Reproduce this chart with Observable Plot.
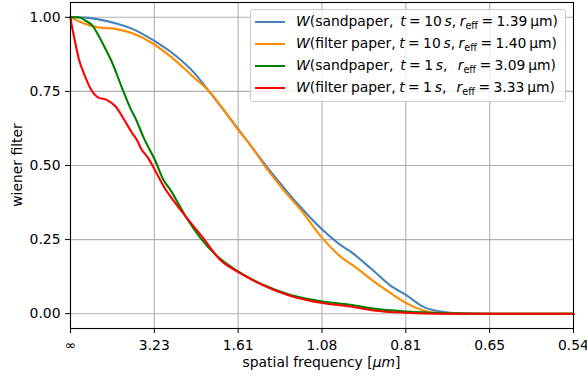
<!DOCTYPE html>
<html>
<head>
<meta charset="utf-8">
<script src="https://cdn.jsdelivr.net/npm/d3@7"></script>
<script src="https://cdn.jsdelivr.net/npm/@observablehq/plot@0.6"></script>
<style>
  body { margin: 0; background: white; }
  #wrap { position: relative; width: 587px; height: 381px; font-family: "DejaVu Sans", sans-serif; }
  #legend {
    position: absolute; right: 21px; top: 9px;
    background: rgba(255,255,255,0.8);
    border: 1px solid #cccccc; border-radius: 3px;
    padding: 1px 7px 2px 4px;
    font-size: 13.9px; color: black; white-space: nowrap; word-spacing: -1px;
  }
  .row { height: 22px; line-height: 22px; display: flex; align-items: center; }
  .handle { display: inline-block; width: 30px; height: 0; border-top: 2.1px solid; margin-right: 11px; }
  .sub { font-size: 9.7px; position: relative; top: 3px; }
</style>
</head>
<body>
<div id="wrap"></div>
<script>
// Tick positions (spatial frequency, 1/µm) and their labels (wavelength, µm)
const xTickValues = [0, 0.31, 0.62, 0.93, 1.24, 1.55, 1.86];
const xTickLabels = ["∞", "3.23", "1.61", "1.08", "0.81", "0.65", "0.54"];
const yTickValues = [0, 0.25, 0.5, 0.75, 1.0];

const seriesNames = [
  "W(sandpaper, t=10s, reff=1.39µm)",
  "W(filter paper, t=10s, reff=1.40µm)",
  "W(sandpaper, t=1s, reff=3.09µm)",
  "W(filter paper, t=1s, reff=3.33µm)"
];
const seriesColors = ["#4682b4", "#ff8c00", "#008000", "#ff0000"];

// sandpaper, t = 10 s
const freqSand10 = [0,0.055,0.104,0.166,0.229,0.307,0.388,0.455,0.510,0.621,0.666,0.721,0.788,0.851,0.932,0.998,1.035,1.109,1.183,1.243,1.305,1.368,1.442,1.553,1.860];
const wSand10    = [1.000,0.999,0.993,0.980,0.961,0.922,0.871,0.815,0.753,0.622,0.568,0.501,0.426,0.359,0.283,0.232,0.210,0.154,0.095,0.062,0.023,0.007,0.001,0.000,0.000];
// filter paper, t = 10 s
const freqFilt10 = [0,0.030,0.074,0.104,0.166,0.229,0.307,0.388,0.455,0.510,0.621,0.666,0.721,0.788,0.851,0.932,0.998,1.061,1.120,1.183,1.243,1.305,1.357,1.442,1.860];
const wFilt10    = [1.000,0.987,0.972,0.966,0.961,0.946,0.910,0.854,0.798,0.753,0.619,0.568,0.495,0.417,0.350,0.254,0.193,0.152,0.110,0.070,0.035,0.011,0.002,0.000,0.000];
// sandpaper, t = 1 s
const freqSand1 = [0,0.030,0.055,0.081,0.104,0.129,0.155,0.192,0.222,0.240,0.270,0.314,0.344,0.370,0.407,0.433,0.481,0.555,0.621,0.714,0.814,0.932,1.035,1.120,1.246,1.368,1.516,1.860];
const wSand1    = [1.000,1.000,0.989,0.972,0.938,0.894,0.845,0.758,0.692,0.660,0.595,0.515,0.451,0.417,0.358,0.318,0.255,0.184,0.142,0.097,0.063,0.041,0.030,0.017,0.007,0.002,0.000,0.000];
// filter paper, t = 1 s
const freqFilt1 = [0,0.004,0.011,0.030,0.055,0.078,0.100,0.137,0.166,0.200,0.229,0.248,0.259,0.288,0.322,0.351,0.370,0.433,0.488,0.555,0.621,0.714,0.814,0.932,1.035,1.120,1.246,1.368,1.860];
const wFilt1    = [1.000,0.975,0.944,0.862,0.798,0.753,0.731,0.720,0.700,0.652,0.608,0.582,0.560,0.524,0.468,0.420,0.395,0.320,0.258,0.180,0.140,0.095,0.060,0.036,0.024,0.011,0.003,0.000,0.000];

const raw = [[freqSand10, wSand10], [freqFilt10, wFilt10], [freqSand1, wSand1], [freqFilt1, wFilt1]];
const rows = [];
raw.forEach(([f, w], s) => f.forEach((fx, i) => rows.push({series: seriesNames[s], f: fx, w: w[i]})));

const fmtX = d => xTickLabels[xTickValues.findIndex(v => Math.abs(v - d) < 1e-6)];

const svg = Plot.plot({
  width: 587, height: 381,
  marginTop: 2, marginBottom: 53, marginLeft: 70, marginRight: 14,
  style: {fontFamily: "DejaVu Sans", fontSize: "13.9px", background: "white", color: "black"},
  x: {domain: [0, 1.86]},
  y: {domain: [-0.05, 1.05]},
  color: {domain: seriesNames, range: seriesColors},
  marks: [
    Plot.gridX(xTickValues, {stroke: "#b0b0b0", strokeOpacity: 1, strokeWidth: 1.1}),
    Plot.gridY(yTickValues, {stroke: "#b0b0b0", strokeOpacity: 1, strokeWidth: 1.1}),
    ...seriesNames.map((name, s) => Plot.line(rows.filter(r => r.series === name), {
      x: "f", y: "w", stroke: seriesColors[s], strokeWidth: 2.1, curve: "monotone-x"
    })),
    Plot.frame({stroke: "black", strokeWidth: 1.1}),
    Plot.axisX({ticks: xTickValues, tickFormat: fmtX, tickSize: 5, tickPadding: 7, label: null}),
    Plot.axisY({ticks: yTickValues, tickFormat: d => d.toFixed(2), tickSize: 5, tickPadding: 5, label: null})
  ]
});

const s = d3.select(svg);
const xl = s.append("text").attr("x", 321.5).attr("y", 367).attr("text-anchor", "middle")
  .attr("font-size", "13.9px").attr("fill", "black");
xl.append("tspan").text("spatial frequency [");
xl.append("tspan").attr("font-style", "italic").text("μm");
xl.append("tspan").text("]");
s.append("text").attr("transform", "translate(21.7,165) rotate(-90)").attr("text-anchor", "middle")
  .attr("font-size", "13.9px").attr("fill", "black").text("wiener filter");

const wrap = document.getElementById("wrap");
wrap.appendChild(svg);

const legendHTML = [
  '<i>W</i>(sandpaper,&nbsp; <i>t</i> = 10&thinsp;<i>s</i>, <i>r</i><span class="sub">eff</span> = 1.39&thinsp;μm)',
  '<i>W</i>(filter paper, <i>t</i> = 10&thinsp;<i>s</i>, <i>r</i><span class="sub">eff</span> = 1.40&thinsp;μm)',
  '<i>W</i>(sandpaper,&nbsp; <i>t</i> = 1&thinsp;<i>s</i>,&nbsp;&nbsp; <i>r</i><span class="sub">eff</span> = 3.09&thinsp;μm)',
  '<i>W</i>(filter paper, <i>t</i> = 1&thinsp;<i>s</i>,&nbsp;&nbsp; <i>r</i><span class="sub">eff</span> = 3.33&thinsp;μm)'
];
const leg = document.createElement("div");
leg.id = "legend";
leg.innerHTML = legendHTML.map((h, i) =>
  `<div class="row"><span class="handle" style="border-color:${seriesColors[i]}"></span><span>${h}</span></div>`).join("");
wrap.appendChild(leg);
</script>
</body>
</html>
